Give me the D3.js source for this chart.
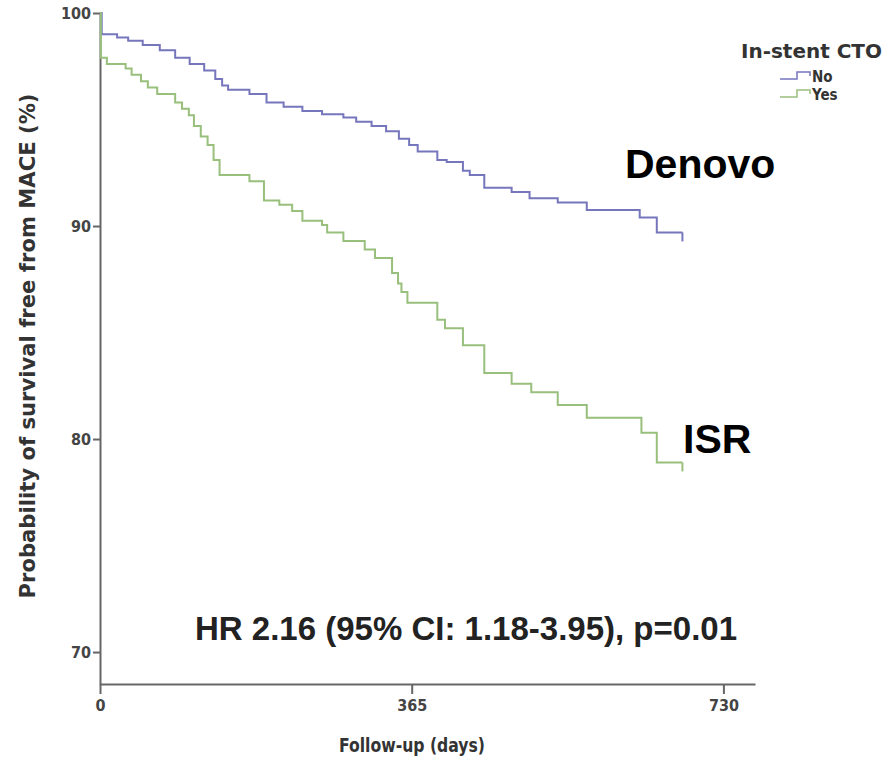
<!DOCTYPE html>
<html>
<head>
<meta charset="utf-8">
<script src="https://cdn.jsdelivr.net/npm/d3@7"></script>
<style>
    body { margin:0; background:#fff; }
    .lab { font-family:"DejaVu Sans Condensed","Liberation Sans Narrow","DejaVu Sans",sans-serif; font-weight:bold; fill:#333; }
    .big { font-family:"Liberation Sans",Arial,sans-serif; font-weight:bold; fill:#000; }
</style>
</head>
<body>
<svg id="chart" width="890" height="759"></svg>
<script>
// Kaplan-Meier steps: day of each drop, survival (%) after it
var noDays  = [0, 2, 20, 33, 50, 70, 88, 105, 122, 135, 143, 150, 175, 195, 215, 237, 260, 285, 300, 318, 335, 350, 362, 372, 395, 406, 425, 433, 450, 482, 503, 536, 570, 632, 652];
var noSurv  = [100, 99.0, 98.85, 98.7, 98.5, 98.25, 97.9, 97.6, 97.3, 96.9, 96.6, 96.4, 96.2, 95.8, 95.6, 95.4, 95.25, 95.1, 94.9, 94.7, 94.45, 94.1, 93.8, 93.5, 93.1, 93.0, 92.6, 92.4, 91.8, 91.6, 91.3, 91.1, 90.75, 90.4, 89.7];
var yesDays = [0, 1, 8, 30, 37, 48, 56, 67, 88, 96, 104, 110, 118, 126, 133, 140, 175, 192, 210, 225, 237, 260, 266, 285, 310, 322, 342, 349, 353, 360, 395, 404, 425, 450, 482, 505, 536, 570, 634, 652];
var yesSurv = [100, 97.9, 97.6, 97.4, 97.1, 96.8, 96.5, 96.2, 95.8, 95.5, 95.2, 94.7, 94.2, 93.8, 93.1, 92.4, 92.1, 91.2, 91.0, 90.7, 90.25, 90.05, 89.7, 89.3, 88.9, 88.5, 87.8, 87.3, 86.9, 86.4, 85.6, 85.2, 84.4, 83.1, 82.6, 82.2, 81.6, 81.0, 80.3, 78.9];
var lastDay = 682;

var groups = ["No", "Yes"];
var groupColors = ["#7676bd", "#98bf7c"];
var yTicks = [70, 80, 90, 100];
var xTicks = [0, 365, 730];

var svg = d3.select("#chart");

var x = d3.scaleLinear().domain([0, 767]).range([100, 755]);
var y = d3.scaleLinear().domain([68.5, 100]).range([684, 13]);

// axes
svg.append("g")
    .attr("transform", "translate(100,0)")
    .call(d3.axisLeft(y).tickValues(yTicks).tickSize(7).tickSizeOuter(0).tickPadding(2));
svg.append("g")
    .attr("transform", "translate(0,684)")
    .call(d3.axisBottom(x).tickValues(xTicks).tickSize(10).tickSizeOuter(0).tickPadding(6));
svg.selectAll(".domain, .tick line").attr("stroke", "#666").attr("stroke-width", 2);
svg.selectAll(".tick text")
    .attr("class", "lab")
    .style("font-size", "16px")
    .style("fill", "#444");

// curves
function series(days, surv) {
    var pts = days.map(function(d, i) { return [d, surv[i]]; });
    pts.push([lastDay, surv[surv.length - 1]]);
    return pts;
}
var line = d3.line()
    .x(function(d) { return x(d[0]); })
    .y(function(d) { return y(d[1]); })
    .curve(d3.curveStepAfter);

var data = [series(noDays, noSurv), series(yesDays, yesSurv)];
data.forEach(function(pts, i) {
    svg.append("path")
        .attr("d", line(pts))
        .attr("fill", "none")
        .attr("stroke", groupColors[i])
        .attr("stroke-width", 2);
    // censor tick at end
    var last = pts[pts.length - 1];
    svg.append("line")
        .attr("x1", x(last[0])).attr("x2", x(last[0]))
        .attr("y1", y(last[1])).attr("y2", y(last[1]) + 9)
        .attr("stroke", groupColors[i])
        .attr("stroke-width", 2);
});

// axis titles
svg.append("text").attr("class", "lab")
    .attr("transform", "translate(35,346) rotate(-90)")
    .attr("text-anchor", "middle")
    .attr("textLength", 505)
    .attr("lengthAdjust", "spacingAndGlyphs")
    .style("font-size", "21px")
    .text("Probability of survival free from MACE (%)");
svg.append("text").attr("class", "lab")
    .attr("x", 412).attr("y", 752)
    .attr("text-anchor", "middle")
    .attr("textLength", 146)
    .attr("lengthAdjust", "spacingAndGlyphs")
    .style("font-size", "20px")
    .text("Follow-up (days)");

// legend
svg.append("text").attr("class", "lab")
    .attr("x", 741).attr("y", 58)
    .attr("textLength", 141)
    .attr("lengthAdjust", "spacingAndGlyphs")
    .style("font-size", "19px")
    .text("In-stent CTO");
groups.forEach(function(g, i) {
    var ly = 79 + i * 18;
    svg.append("path")
        .attr("d", "M780," + ly + "H797V" + (ly - 7) + "H810V" + (ly - 3))
        .attr("fill", "none")
        .attr("stroke", groupColors[i])
        .attr("stroke-width", 1.5);
    svg.append("text").attr("class", "lab")
        .attr("x", 812).attr("y", ly + 3)
        .style("font-size", "15px")
        .text(g);
});

// annotations
svg.append("text").attr("class", "big")
    .attr("x", 625).attr("y", 178)
    .style("font-size", "41px")
    .text("Denovo");
svg.append("text").attr("class", "big")
    .attr("x", 683).attr("y", 453)
    .style("font-size", "41px")
    .text("ISR");
svg.append("text").attr("class", "big")
    .attr("x", 466).attr("y", 640)
    .attr("text-anchor", "middle")
    .style("font-size", "33px")
    .style("fill", "#222")
    .text("HR 2.16 (95% CI: 1.18-3.95), p=0.01");
</script>
</body>
</html>
